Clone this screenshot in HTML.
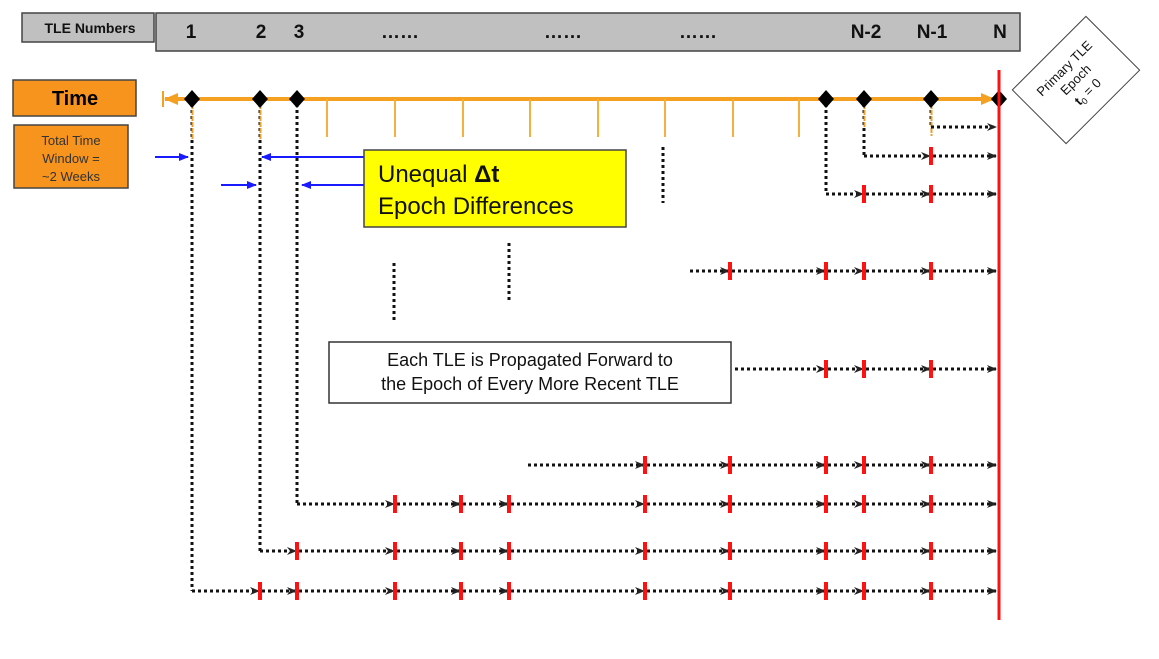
<!DOCTYPE html>
<html><head><meta charset="utf-8"><style>
html,body{margin:0;padding:0;background:#fff;width:1159px;height:659px;overflow:hidden}
svg{display:block;font-family:"Liberation Sans",Arial,sans-serif}
</style></head><body>
<svg id="s" width="1159" height="659" viewBox="0 0 1159 659" xmlns="http://www.w3.org/2000/svg">
<defs>
<marker id="ah" markerWidth="10" markerHeight="8" refX="9" refY="4" orient="auto" markerUnits="userSpaceOnUse">
<path d="M0,0 L10,4 L0,8 L3,4 Z" fill="#222"/></marker>
<marker id="bh" markerWidth="10" markerHeight="8" refX="9" refY="4" orient="auto" markerUnits="userSpaceOnUse">
<path d="M0,0 L10,4 L0,8 Z" fill="#1a1aff"/></marker>
<marker id="oh" markerWidth="14" markerHeight="12" refX="13" refY="6" orient="auto" markerUnits="userSpaceOnUse">
<path d="M0,0 L14,6 L0,12 Z" fill="#f5a021"/></marker>
</defs>
<rect x="22" y="13" width="132" height="29" fill="#c0c0c0" stroke="#444" stroke-width="1.5"/>
<text x="90" y="33" font-size="14" font-weight="bold" text-anchor="middle" fill="#111">TLE Numbers</text>
<rect x="156" y="13" width="864" height="38" fill="#c0c0c0" stroke="#444" stroke-width="1.5"/>
<g font-size="19" font-weight="bold" fill="#111" text-anchor="middle">
<text x="191" y="38">1</text><text x="261" y="38">2</text><text x="299" y="38">3</text>
<text x="400" y="38">……</text><text x="563" y="38">……</text><text x="698" y="38">……</text>
<text x="866" y="38">N-2</text><text x="932" y="38">N-1</text><text x="1000" y="38">N</text>
</g>
<rect x="13" y="80" width="123" height="36" fill="#f7941d" stroke="#444" stroke-width="1.5"/>
<text x="75" y="105" font-size="20" font-weight="bold" text-anchor="middle" fill="#000">Time</text>
<rect x="14" y="125" width="114" height="63" fill="#f7941d" stroke="#444" stroke-width="1.5"/>
<g font-size="13" fill="#333" text-anchor="middle"><text x="71" y="145">Total Time</text><text x="71" y="163">Window =</text><text x="71" y="181">~2 Weeks</text></g>
<line x1="163" y1="91" x2="163" y2="107" stroke="#f5a021" stroke-width="2"/>
<line x1="185" y1="99" x2="165" y2="99" stroke="#f5a021" stroke-width="4" marker-end="url(#oh)"/>
<line x1="185" y1="99" x2="994" y2="99" stroke="#f5a021" stroke-width="4" marker-end="url(#oh)"/>
<g id="g"></g>
<line x1="999" y1="70" x2="999" y2="620" stroke="#ff1111" stroke-width="3"/>
<g transform="translate(1076,80) rotate(-45)">
<rect x="-52" y="-38" width="104" height="76" fill="#fff" stroke="#444" stroke-width="1"/>
<g font-size="13" text-anchor="middle" fill="#111"><text x="0" y="-12">Primary TLE</text><text x="0" y="4">Epoch</text><text x="0" y="21"><tspan font-weight="bold">t</tspan><tspan font-size="9" dy="3">0</tspan><tspan dy="-3"> = 0</tspan></text></g>
</g>
<rect x="364" y="150" width="262" height="77" fill="#ffff00" stroke="#444" stroke-width="1.5"/>
<g font-size="24" fill="#111"><text x="378" y="182">Unequal <tspan font-weight="bold">Δt</tspan></text><text x="378" y="214">Epoch Differences</text></g>
<rect x="329" y="342" width="402" height="61" fill="#fff" stroke="#333" stroke-width="1.5"/>
<g font-size="18" fill="#111" text-anchor="middle"><text x="530" y="366">Each TLE is Propagated Forward to</text><text x="530" y="390">the Epoch of Every More Recent TLE</text></g>
</svg>
<script>
var g=document.getElementById('g'),h='';
function L(x1,y1,x2,y2,c,w,d,m){h+='<line x1="'+x1+'" y1="'+y1+'" x2="'+x2+'" y2="'+y2+'" stroke="'+c+'" stroke-width="'+w+'"'+(d?' stroke-dasharray="'+d+'"':'')+(m?' marker-end="url(#'+m+')"':'')+'/>';}
[327,395,463,530,598,665,733,799].forEach(function(x){L(x,99,x,137,'#f5b040',2);});
[[192,591],[260,551],[297,504],[826,194],[864,156],[931,127]].forEach(function(v){L(v[0],104,v[0],v[1],'#111',3,'3,3');});
[[192,140],[260,140],[864,128],[931,136]].forEach(function(v){L(v[0]+0.5,104,v[0]+0.5,v[1],'#e8a030',2,'5,1');});
L(663,147,663,203,'#111',3,'3,3');L(394,263,394,320,'#111',3,'3,3');L(509,243,509,300,'#111',3,'3,3');
var rows=[[127,931,[]],[156,864,[931]],[194,826,[864,931]],[271,690,[730,826,864,931]],[369,735,[826,864,931]],
[465,528,[645,730,826,864,931]],[504,297,[395,461,509,645,730,826,864,931]],
[551,260,[297,395,461,509,645,730,826,864,931]],[591,192,[260,297,395,461,509,645,730,826,864,931]]];
rows.forEach(function(r){var y=r[0],s=r[1],pts=r[2].concat([997]);
 pts.forEach(function(p){L(s,y,p-1,y,'#111',3,'3,3','ah');if(p<997)L(p,y-9,p,y+9,'#ff1111',4);s=p+2;});});
L(155,157,188,157,'#1a1aff',2,null,'bh');L(364,157,262,157,'#1a1aff',2,null,'bh');
L(221,185,256,185,'#1a1aff',2,null,'bh');L(364,185,302,185,'#1a1aff',2,null,'bh');
[192,260,297,826,864,931,999].forEach(function(x){h+='<path d="M'+x+',90 L'+(x+8)+',99 L'+x+',108 L'+(x-8)+',99 Z" fill="#000"/>';});
g.innerHTML=h;
</script>
</body></html>
